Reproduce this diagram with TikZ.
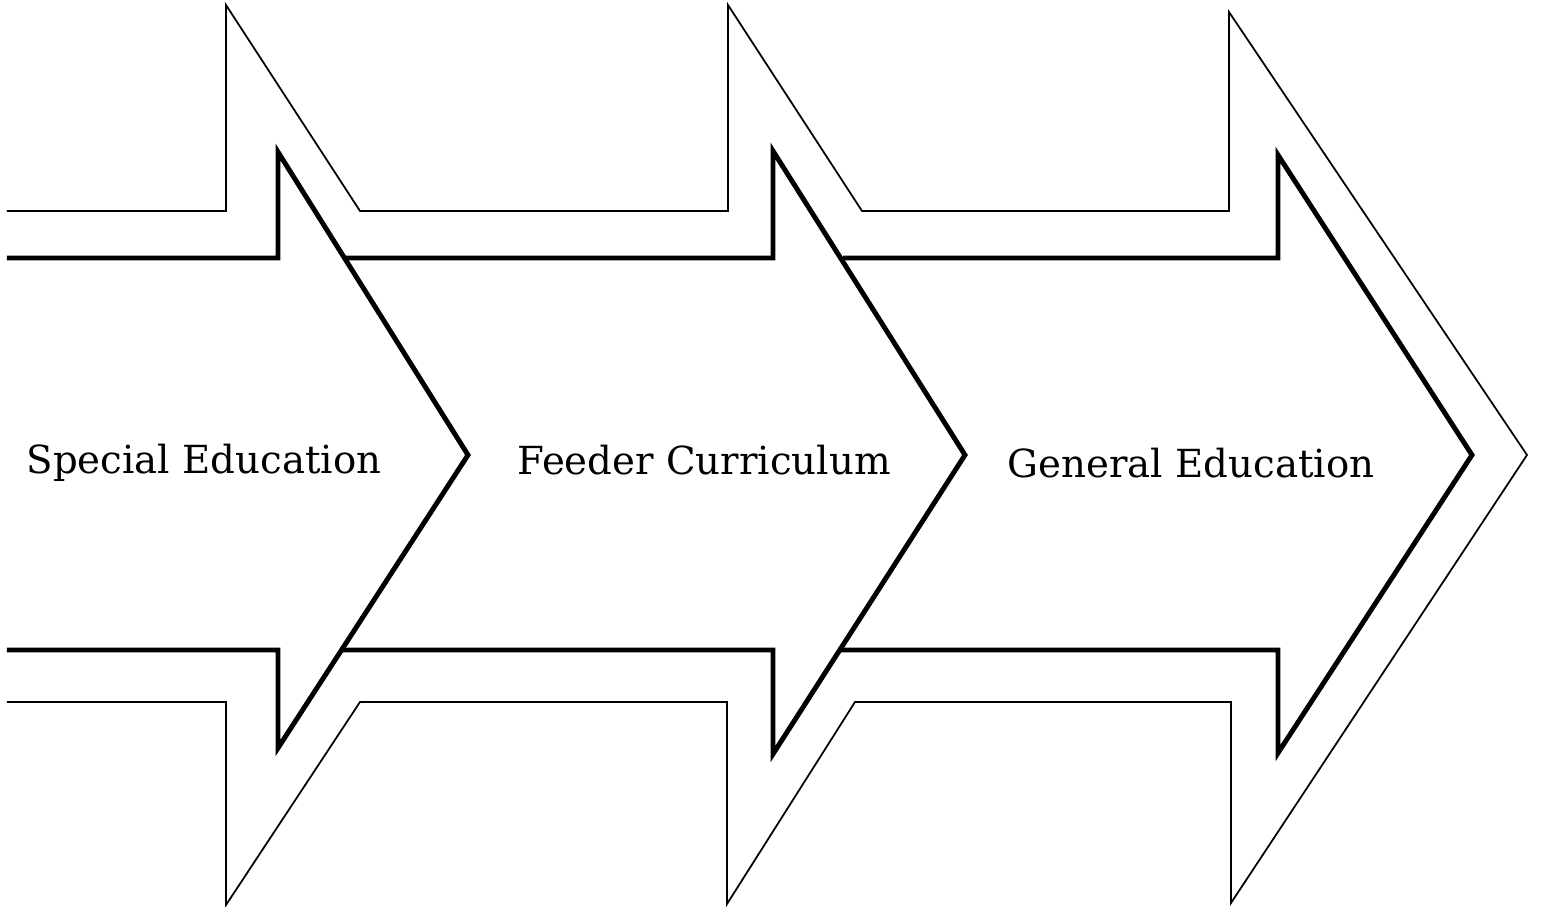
\documentclass[tikz,border=0pt]{standalone}
\usepackage{fontspec}
\setmainfont{DejaVu Serif}
\begin{document}
\begin{tikzpicture}[x=0.01cm, y=-0.01cm,
    outerline/.style={line width=0.5pt},
    innerline/.style={line width=1.4pt},
    stagetext/.style={font=\fontsize{11}{14}\selectfont}]
\useasboundingbox (0,0) rectangle (1541,907);
% outer band, one open outline
\draw[outerline] (7,211) -- (226,211) -- (226,5) -- (360,211) -- (728,211) -- (728,5) -- (862,211)
    -- (1229,211) -- (1229,12) -- (1527,455) -- (1231,903) -- (1231,702) -- (855,702)
    -- (727,904) -- (727,702) -- (360,702) -- (226,905) -- (226,702) -- (7,702);
% inner arrows
\foreach \lt/\lb/\bx/\tx/\by/\ty in {7/7/278/468/152/748, 345/340/773/965/151/754, 843/838/1278/1472/155/753} {
    \draw[innerline] (\lt,258) -- (\bx,258) -- (\bx,\by) -- (\tx,455) -- (\bx,\ty) -- (\bx,650) -- (\lb,650);
}
\node[stagetext] (special) at (204,463) {Special Education};
\node[stagetext] (feeder) at (704,460) {Feeder Curriculum};
\node[stagetext] (general) at (1191,463) {General Education};
\end{tikzpicture}
\end{document}
